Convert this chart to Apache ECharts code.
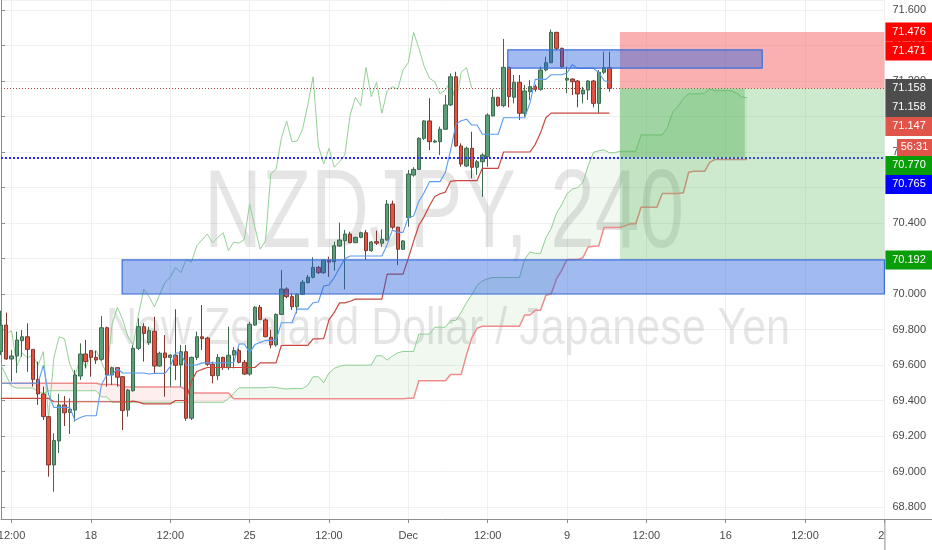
<!DOCTYPE html>
<html><head><meta charset="utf-8">
<script src="https://cdn.jsdelivr.net/npm/echarts@6/dist/echarts.min.js"></script>
<style>html,body{margin:0;padding:0;background:#fff}#c{width:932px;height:550px}</style>
</head><body><div id="c"></div>
<script>
// ---------- data ----------
const barCount = 168;
const tickIndex = [2, 17, 32, 47, 62, 77, 92, 107, 122, 137, 152, 167];
const tickLabels = ['12:00', '18', '12:00', '25', '12:00', 'Dec', '12:00', '9', '12:00', '16', '12:00', '23'];

const open = [69.675,69.825,69.634,69.651,69.737,69.759,69.688,69.519,69.437,69.309,
69.037,69.172,69.375,69.333,69.346,69.538,69.662,69.681,69.643,69.632,
69.810,69.544,69.585,69.534,69.346,69.455,69.694,69.816,69.726,69.790,
69.594,69.668,69.643,69.656,69.600,69.675,69.300,69.643,69.759,69.752,
69.604,69.540,69.643,69.585,69.656,69.681,69.615,69.549,69.825,69.925,
69.854,69.756,69.713,69.885,70.028,69.985,69.928,69.998,70.064,70.094,
70.150,70.120,70.190,70.182,70.270,70.300,70.338,70.289,70.319,70.345,
70.244,70.295,70.286,70.304,70.507,70.376,70.252,70.430,70.670,70.702,
70.877,70.975,70.856,70.858,70.928,71.065,71.224,70.834,70.721,70.821,
70.714,70.745,70.774,71.003,71.108,71.061,71.277,71.108,71.193,71.018,
71.140,71.168,71.153,71.262,71.303,71.474,71.384,71.205,71.211,71.200,
71.127,71.149,71.200,71.074,71.249,71.275];
const close = [69.825,69.634,69.651,69.741,69.759,69.688,69.519,69.437,69.309,69.037,
69.174,69.375,69.331,69.350,69.544,69.662,69.619,69.643,69.628,69.810,
69.544,69.585,69.531,69.343,69.459,69.694,69.816,69.778,69.793,69.594,
69.666,69.641,69.656,69.598,69.675,69.300,69.643,69.759,69.748,69.604,
69.540,69.643,69.585,69.655,69.681,69.615,69.549,69.829,69.925,69.857,
69.759,69.713,69.885,70.028,69.985,69.928,69.998,70.066,70.094,70.150,
70.120,70.192,70.180,70.272,70.304,70.338,70.289,70.319,70.345,70.244,
70.293,70.286,70.308,70.507,70.376,70.252,70.299,70.676,70.702,70.877,
70.975,70.858,70.862,70.928,71.065,71.224,70.834,70.732,70.821,70.714,
70.745,70.783,71.008,71.108,71.061,71.277,71.112,71.193,71.018,71.144,
71.168,71.153,71.262,71.303,71.474,71.384,71.282,71.215,71.196,71.127,
71.149,71.200,71.074,71.249,71.275,71.158];
const low = [69.656,69.628,69.506,69.555,69.647,69.562,69.478,69.375,69.290,68.971,
68.886,69.104,69.256,69.211,69.281,69.516,69.581,69.534,69.606,69.624,
69.478,69.487,69.478,69.234,69.309,69.450,69.685,69.619,69.713,69.553,
69.590,69.421,69.478,69.515,69.478,69.286,69.290,69.628,69.685,69.594,
69.497,69.515,69.572,69.572,69.581,69.609,69.544,69.540,69.820,69.854,
69.756,69.694,69.703,69.882,69.976,69.910,69.891,69.994,70.060,70.088,
70.113,70.113,70.097,70.131,70.266,70.026,70.286,70.286,70.314,70.192,
70.238,70.276,70.266,70.300,70.364,70.163,70.248,70.379,70.661,70.699,
70.868,70.811,70.850,70.783,70.924,71.059,70.830,70.717,70.717,70.652,
70.670,70.548,70.717,71.000,71.055,71.052,71.052,71.074,70.980,70.999,
71.093,71.140,71.145,71.254,71.300,71.375,71.272,71.131,71.121,71.052,
71.074,71.093,71.052,71.018,71.240,71.140];
const high = [69.906,69.895,69.685,69.788,69.797,69.835,69.690,69.619,69.478,69.310,
69.215,69.437,69.425,69.412,69.572,69.722,69.741,69.685,69.681,69.876,
69.816,69.591,69.587,69.538,69.465,69.713,69.863,69.835,69.816,69.872,
69.675,69.769,69.660,69.914,69.713,69.713,69.647,69.788,69.938,69.759,
69.619,69.662,69.647,69.816,69.700,69.694,69.628,69.842,69.932,69.938,
69.863,69.797,69.891,70.135,70.038,70.004,70.004,70.079,70.107,70.207,
70.158,70.195,70.210,70.295,70.402,70.361,70.351,70.323,70.351,70.361,
70.299,70.357,70.364,70.530,70.526,70.379,70.304,70.699,70.714,70.883,
70.980,71.103,70.870,70.943,71.121,71.243,71.252,70.849,70.830,70.914,
70.755,70.793,71.018,71.153,71.112,71.437,71.280,71.234,71.234,71.177,
71.206,71.180,71.281,71.337,71.490,71.477,71.388,71.280,71.215,71.206,
71.168,71.206,71.206,71.262,71.365,71.365];

// Ichimoku conversion line (blue)
const tenkan = [69.497,69.497,69.497,69.497,69.497,69.497,69.497,69.497,69.598,69.433,
69.361,69.361,69.361,69.361,69.288,69.304,69.314,69.314,69.314,69.490,
69.544,69.544,69.579,69.555,69.555,69.555,69.555,69.555,69.549,69.553,
69.553,69.553,69.591,69.668,69.668,69.600,69.600,69.600,69.612,69.612,
69.612,69.612,69.612,69.612,69.614,69.718,69.718,69.670,69.715,69.727,
69.739,69.739,69.739,69.838,69.838,69.838,69.915,69.915,69.915,69.951,
69.955,70.045,70.051,70.093,70.147,70.198,70.214,70.214,70.214,70.214,
70.214,70.214,70.214,70.278,70.361,70.347,70.347,70.431,70.439,70.523,
70.572,70.633,70.633,70.633,70.685,70.811,70.957,70.976,70.985,70.952,
70.952,70.900,70.900,70.900,70.900,70.993,70.993,70.993,70.993,70.993,
71.077,71.209,71.209,71.209,71.235,71.235,71.235,71.245,71.292,71.271,
71.271,71.271,71.271,71.248,71.203,71.192];
// Ichimoku base line (red)
const kijun = [69.412,69.412,69.412,69.412,69.412,69.412,69.412,69.412,69.412,69.412,
69.393,69.393,69.393,69.393,69.393,69.393,69.393,69.393,69.393,69.393,
69.393,69.393,69.393,69.393,69.393,69.396,69.391,69.381,69.381,69.381,
69.381,69.381,69.381,69.400,69.400,69.400,69.509,69.563,69.575,69.586,
69.586,69.586,69.586,69.586,69.586,69.586,69.586,69.586,69.586,69.612,
69.612,69.612,69.612,69.711,69.711,69.711,69.711,69.711,69.711,69.747,
69.747,69.749,69.854,69.896,69.950,69.950,69.959,69.971,69.971,69.971,
69.971,69.971,69.971,70.112,70.112,70.112,70.112,70.201,70.298,70.387,
70.436,70.497,70.549,70.565,70.574,70.635,70.639,70.639,70.639,70.639,
70.639,70.708,70.708,70.708,70.708,70.800,70.800,70.800,70.800,70.800,
70.800,70.843,70.908,70.993,71.019,71.019,71.019,71.019,71.019,71.019,
71.019,71.019,71.019,71.019,71.019,71.019];
// Leading span A (green) and B (light red), drawn 26 bars ahead
const spanA = [69.600,69.540,69.480,69.470,69.470,69.470,69.470,69.450,69.440,69.455,
69.455,69.455,69.455,69.455,69.455,69.455,69.455,69.455,69.455,69.420,
69.420,69.390,69.390,69.390,69.390,69.390,69.390,69.390,69.390,69.390,
69.390,69.390,69.390,69.390,69.390,69.390,69.390,69.390,69.390,69.390,
69.390,69.390,69.390,69.410,69.440,69.472,69.472,69.472,69.472,69.472,
69.472,69.476,69.473,69.468,69.465,69.467,69.467,69.467,69.486,69.534,
69.534,69.500,69.555,69.581,69.593,69.599,69.599,69.599,69.599,69.599,
69.600,69.652,69.652,69.628,69.650,69.669,69.676,69.676,69.676,69.774,
69.774,69.774,69.813,69.813,69.813,69.849,69.851,69.897,69.952,69.995,
70.048,70.074,70.086,70.093,70.093,70.093,70.093,70.093,70.093,70.195,
70.237,70.229,70.229,70.316,70.368,70.455,70.504,70.565,70.591,70.599,
70.629,70.723,70.798,70.807,70.812,70.796,70.796,70.804,70.804,70.804,
70.804,70.896,70.896,70.896,70.896,70.896,70.939,71.026,71.058,71.101,
71.127,71.127,71.127,71.132,71.155,71.145,71.145,71.145,71.145,71.133,
71.111,71.105];
const spanB = [69.497,69.497,69.497,69.497,69.497,69.497,69.497,69.497,69.497,69.497,
69.497,69.497,69.497,69.497,69.497,69.497,69.497,69.497,69.497,69.490,
69.490,69.490,69.490,69.476,69.476,69.476,69.476,69.476,69.476,69.476,
69.476,69.476,69.476,69.476,69.476,69.460,69.442,69.442,69.442,69.442,
69.442,69.442,69.442,69.442,69.410,69.410,69.410,69.410,69.410,69.410,
69.410,69.410,69.410,69.410,69.410,69.410,69.410,69.410,69.410,69.410,
69.410,69.410,69.410,69.410,69.410,69.410,69.410,69.410,69.410,69.410,
69.410,69.410,69.410,69.410,69.410,69.410,69.410,69.412,69.412,69.511,
69.511,69.511,69.511,69.511,69.511,69.547,69.547,69.547,69.657,69.753,
69.807,69.818,69.818,69.818,69.818,69.818,69.818,69.818,69.818,69.882,
69.882,69.908,69.908,69.993,70.000,70.085,70.133,70.195,70.195,70.195,
70.204,70.265,70.269,70.271,70.375,70.375,70.375,70.375,70.384,70.396,
70.396,70.489,70.489,70.489,70.489,70.566,70.566,70.566,70.566,70.570,
70.686,70.691,70.691,70.691,70.742,70.758,70.758,70.758,70.758,70.758,
70.758,70.758];
// lagging span = closes shown 26 bars back
const lagging = close.slice(26);

// drawings: [startBar, endBar (null = to price scale), upperPrice, lowerPrice]
const drawings = [
  [117, null, 71.476, 71.158],
  [117, null, 71.158, 70.192],
  [117, 140.6, 71.158, 70.770],
  [22.9, null, 70.192, 70.000],
  [95.8, 143.9, 71.375, 71.273]
];
const lastPrice = 71.158;
const hLine = 70.765;

const tagValues = [71.476, 71.471, 71.158, 71.158, 71.147, 70.770, 70.765, 70.192];
const tagTexts = ['71.476', '71.471', '71.158', '71.158', '71.147', '70.770', '70.765', '70.192'];
const countdownText = '56:31';
const titleText = 'NZDJPY, 240';
const subtitleText = 'New Zealand Dollar / Japanese Yen';

// ---------- styles ----------
const tagColors = ['#ff0000', '#ff0000', '#4d4d4d', '#4d4d4d', '#e0544a', '#0a9d0a', '#0000ff', '#0a9d0a'];
const boxStyles = [
  {fill: 'rgba(245,80,80,0.45)', stroke: null, lw: 0},
  {fill: 'rgba(76,175,80,0.28)', stroke: null, lw: 0},
  {fill: 'rgba(76,175,80,0.35)', stroke: null, lw: 0},
  {fill: 'rgba(30,90,220,0.42)', stroke: '#3a6fd8', lw: 1.2},
  {fill: 'rgba(30,90,220,0.42)', stroke: '#3a6fd8', lw: 1.2}
];

const chart = echarts.init(document.getElementById('c'), null, {renderer: 'canvas'});
const cats = Array.from({length: barCount}, (_, i) => String(i));
const tickSet = new Set(tickIndex);
const labelOf = {};
tickIndex.forEach((t, k) => { labelOf[t] = tickLabels[k]; });
const showTick = (i) => tickSet.has(i);

const cloudBase = spanA.map((a, i) => Math.min(a, spanB[i]));
const cloudUp = spanA.map((a, i) => a >= spanB[i] ? a - spanB[i] : 0);
const cloudDown = spanA.map((a, i) => a < spanB[i] ? spanB[i] - a : 0);
const candleData = open.map((o, i) => [o, close[i], low[i], high[i]]);

function lineSeries(data, color, width, z) {
  return {type: 'line', data: data, symbol: 'none', silent: true, z: z,
    lineStyle: {color: color, width: width}, itemStyle: {color: color}};
}

const gridLeft = 1, gridWidth = 883.4;

chart.setOption({
  animation: false,
  backgroundColor: '#ffffff',
  grid: {left: gridLeft, top: 0, width: gridWidth, bottom: 31, containLabel: false, outerBoundsMode: 'none'},
  xAxis: [{
    type: 'category', data: cats, boundaryGap: false,
    axisLine: {lineStyle: {color: '#8c8c8c'}},
    axisTick: {show: true, interval: showTick, length: 4, lineStyle: {color: '#8c8c8c'}},
    axisLabel: {interval: showTick, formatter: (v, i) => labelOf[i] || '', color: '#4a4a4a',
      fontSize: 11, margin: 11, fontFamily: 'Liberation Sans, Arial, sans-serif', showMaxLabel: true},
    splitLine: {show: true, interval: showTick, lineStyle: {color: '#f0f0f0'}}
  }, {
    type: 'value', min: 0, max: barCount - 1, show: false
  }],
  yAxis: {
    type: 'value', position: 'right', min: 68.7324, max: 71.6563,
    splitNumber: 15, minInterval: 0.2, maxInterval: 0.2,
    axisLine: {show: true, lineStyle: {color: '#8c8c8c'}},
    axisTick: {show: true, length: 4, lineStyle: {color: '#8c8c8c'}},
    axisLabel: {color: '#4a4a4a', fontSize: 11, margin: 8, showMinLabel: false, showMaxLabel: false,
      fontFamily: 'Liberation Sans, Arial, sans-serif', formatter: v => v.toFixed(3)},
    splitLine: {show: true, lineStyle: {color: '#f0f0f0'}}
  },
  series: [
    {type: 'line', data: cloudBase, stack: 'up', symbol: 'none', silent: true, z: 1, lineStyle: {width: 0, opacity: 0}},
    {type: 'line', data: cloudUp, stack: 'up', symbol: 'none', silent: true, z: 1, lineStyle: {width: 0, opacity: 0},
      areaStyle: {color: 'rgba(76,175,80,0.12)'}},
    {type: 'line', data: cloudBase, stack: 'down', symbol: 'none', silent: true, z: 1, lineStyle: {width: 0, opacity: 0}},
    {type: 'line', data: cloudDown, stack: 'down', symbol: 'none', silent: true, z: 1, lineStyle: {width: 0, opacity: 0},
      areaStyle: {color: 'rgba(244,67,54,0.12)'}},
    lineSeries(spanA, '#8fcf92', 1, 2),
    lineSeries(spanB, '#f08c8c', 1.5, 2),
    lineSeries(lagging, '#94d196', 1, 2),
    {type: 'candlestick', data: candleData, barWidth: '74%', z: 3,
      itemStyle: {color: '#5b9e78', color0: '#e8503f', borderColor: '#3e6a50', borderColor0: '#7d3a33', borderWidth: 1}},
    lineSeries(kijun, '#c9473f', 1.2, 4),
    lineSeries(tenkan, '#5b9bf0', 1.1, 4),
    {type: 'custom', xAxisIndex: 1, yAxisIndex: 0, z: 5, silent: true,
      data: drawings.map((d, i) => [d[0], d[1] === null ? barCount - 1 : d[1], d[2], d[3], i]),
      encode: {x: [0, 1], y: [2, 3]},
      renderItem: function (params, api) {
        const cs = params.coordSys;
        const st = boxStyles[api.value(4)];
        const p0 = api.coord([api.value(0), api.value(2)]);
        const p1 = api.coord([api.value(1), api.value(3)]);
        const x0 = Math.max(cs.x, p0[0]);
        const x1 = Math.min(cs.x + cs.width, p1[0]);
        return {type: 'rect', shape: {x: x0, y: p0[1], width: x1 - x0, height: p1[1] - p0[1]},
          style: {fill: st.fill, stroke: st.stroke, lineWidth: st.lw}};
      }},
    {type: 'line', data: [], z: 6, symbol: 'none',
      markLine: {silent: true, symbol: ['none', 'none'], label: {show: false}, animation: false,
        data: [
          {yAxis: lastPrice, lineStyle: {color: '#a94442', width: 1, type: [1, 2]}},
          {yAxis: hLine, lineStyle: {color: '#2a2aff', width: 2, type: [2, 2]}}
        ]}}
  ]
});

// ---------- watermark and price-scale tags ----------
const ctx = document.createElement('canvas').getContext('2d');
const wmFont = '"Liberation Sans Narrow", "Liberation Sans", Arial, sans-serif';
ctx.font = '112px ' + wmFont;
const titleW = ctx.measureText(titleText).width;
ctx.font = '52px ' + wmFont;
const subW = ctx.measureText(subtitleText).width;
const titleScale = 480 / titleW;
const subScale = 684 / subW;

const axisX = chart.convertToPixel({xAxisIndex: 1}, barCount - 1);
const axisY = chart.convertToPixel({yAxisIndex: 0}, 68.7324);
const graphics = [
  {type: 'text', z: 1, silent: true, x: 444, y: 216, scaleX: titleScale, originX: 0, originY: 0,
    style: {text: titleText, font: '112px ' + wmFont, fill: 'rgba(0,0,0,0.1)', align: 'center', verticalAlign: 'middle'}},
  {type: 'text', z: 1, silent: true, x: 448, y: 330, scaleX: subScale, originX: 0, originY: 0,
    style: {text: subtitleText, font: '52px ' + wmFont, fill: 'rgba(0,0,0,0.1)', align: 'center', verticalAlign: 'middle'}},
  // price-scale column below the time axis (hides the end of the last time label)
  {type: 'rect', z: 90, silent: true, shape: {x: axisX + 0.5, y: axisY + 0.5, width: 932 - axisX, height: 550 - axisY},
    style: {fill: '#ffffff'}},
  {type: 'line', z: 91, silent: true, shape: {x1: axisX + 0.5, y1: axisY, x2: axisX + 0.5, y2: 550},
    style: {stroke: '#8c8c8c', lineWidth: 1}},
  {type: 'line', z: 91, silent: true, shape: {x1: axisX, y1: Math.round(axisY) + 0.5, x2: 932, y2: Math.round(axisY) + 0.5},
    style: {stroke: '#8c8c8c', lineWidth: 1}}
];

const tagH = 19;
const tagX = axisX + 1;
let prevBottom = -Infinity;
tagValues.forEach((v, k) => {
  const yc = chart.convertToPixel({yAxisIndex: 0}, v);
  const top = Math.max(yc - tagH / 2, prevBottom);
  graphics.push({type: 'rect', z: 100, silent: true, shape: {x: tagX, y: top, width: 932 - tagX, height: tagH},
    style: {fill: tagColors[k]}});
  graphics.push({type: 'text', z: 101, silent: true, x: 909, y: top + tagH / 2,
    style: {text: tagTexts[k], fill: '#ffffff', font: '11px "Liberation Sans", Arial, sans-serif', align: 'center', verticalAlign: 'middle'}});
  prevBottom = top + tagH;
  if (k === 4) {
    const ct = prevBottom + 3;
    graphics.push({type: 'rect', z: 100, silent: true, shape: {x: 897, y: ct, width: 35, height: 17},
      style: {fill: tagColors[k]}});
    graphics.push({type: 'text', z: 101, silent: true, x: 914.5, y: ct + 8.5,
      style: {text: countdownText, fill: '#ffffff', font: '11px "Liberation Sans", Arial, sans-serif', align: 'center', verticalAlign: 'middle'}});
    prevBottom = ct + 17;
  }
});
chart.setOption({graphic: graphics});
</script>
</body></html>
